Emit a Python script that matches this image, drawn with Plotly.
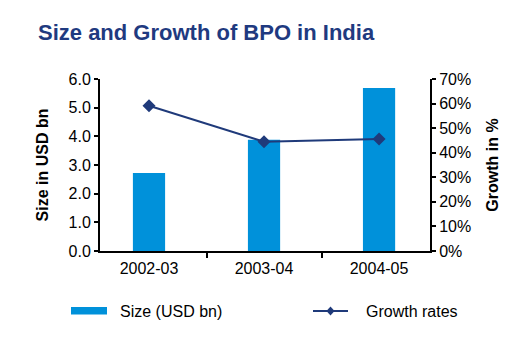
import plotly.graph_objects as go

categories = ["2002-03", "2003-04", "2004-05"]
size_usd_bn = [2.72, 3.88, 5.69]
growth_pct = [59.1, 44.5, 45.6]
series_names = ["Size (USD bn)", "Growth rates"]

bar_color = "#0091DA"
line_color = "#1F3A7A"
font_family = "Liberation Sans, Arial, sans-serif"

W, H = 511, 337
L, R, T, B = 100, 81, 79, 86
PW, PH = W - L - R, H - T - B


def px_x(px):
    return (px - L) / PW


def px_y(py):
    return (H - B - py) / PH


fig = go.Figure()
fig.add_trace(go.Bar(
    x=categories, y=size_usd_bn, name=series_names[0],
    marker=dict(color=bar_color, line=dict(width=0)), width=0.28,
))
fig.add_trace(go.Scatter(
    x=categories, y=growth_pct, name=series_names[1], yaxis="y2",
    mode="lines+markers",
    line=dict(color=line_color, width=2),
    marker=dict(symbol="diamond", size=10, color=line_color),
))

# custom legend (styled like the original's wide swatches)
shapes = [
    dict(type="rect", xref="paper", yref="paper",
         x0=px_x(71), x1=px_x(107), y0=px_y(314.5), y1=px_y(307),
         fillcolor=bar_color, line=dict(width=0)),
    dict(type="line", xref="paper", yref="paper",
         x0=px_x(313), x1=px_x(348), y0=px_y(311), y1=px_y(311),
         line=dict(color=line_color, width=2)),
    dict(type="path", xref="paper", yref="paper",
         path="M {a},{b} L {c},{d} L {a},{e} L {f},{d} Z".format(
             a=px_x(330.5), b=px_y(306.5), c=px_x(334.5), d=px_y(311),
             e=px_y(315.5), f=px_x(326.5)),
         fillcolor=line_color, line=dict(color=line_color, width=0)),
]
annotations = [
    dict(text=series_names[0], xref="paper", yref="paper", x=px_x(118), y=px_y(311),
         xanchor="left", yanchor="middle", showarrow=False,
         font=dict(family=font_family, size=16, color="black")),
    dict(text=series_names[1], xref="paper", yref="paper", x=px_x(364), y=px_y(311),
         xanchor="left", yanchor="middle", showarrow=False,
         font=dict(family=font_family, size=16, color="black")),
]

fig.update_layout(
    width=W, height=H,
    margin=dict(l=L, r=R, t=T, b=B, autoexpand=False),
    paper_bgcolor="white", plot_bgcolor="white",
    font=dict(family=font_family, size=16, color="black"),
    title=dict(
        text="<b>Size and Growth of BPO in India</b>",
        font=dict(family=font_family, size=22, color="#1F3A80"),
        x=38 / W, xanchor="left", y=1 - 32 / H, yanchor="middle",
    ),
    xaxis=dict(
        type="category", range=[-0.426, 2.443],
        showline=True, linecolor="black", linewidth=2,
        ticks="outside", ticklen=5, tickwidth=2, tickcolor="black",
        tickson="boundaries", showgrid=False,
        tickfont=dict(size=16), ticklabelstandoff=2,
    ),
    yaxis=dict(
        range=[0, 6], dtick=1, tickformat=".1f",
        showline=True, linecolor="black", linewidth=2,
        ticks="outside", ticklen=4, tickwidth=2, tickcolor="black",
        showgrid=False, zeroline=False,
        title=dict(text="<b>Size in USD bn</b>", font=dict(size=16), standoff=16),
        tickfont=dict(size=16),
    ),
    yaxis2=dict(
        range=[0, 70], dtick=10, ticksuffix="%",
        overlaying="y", side="right",
        showline=True, linecolor="black", linewidth=2,
        ticks="outside", ticklen=4, tickwidth=2, tickcolor="black",
        showgrid=False, zeroline=False,
        title=dict(text="<b>Growth in %</b>", font=dict(size=16), standoff=17),
        tickfont=dict(size=16),
    ),
    showlegend=False,
    shapes=shapes,
    annotations=annotations,
)

fig.write_html("out.html")
